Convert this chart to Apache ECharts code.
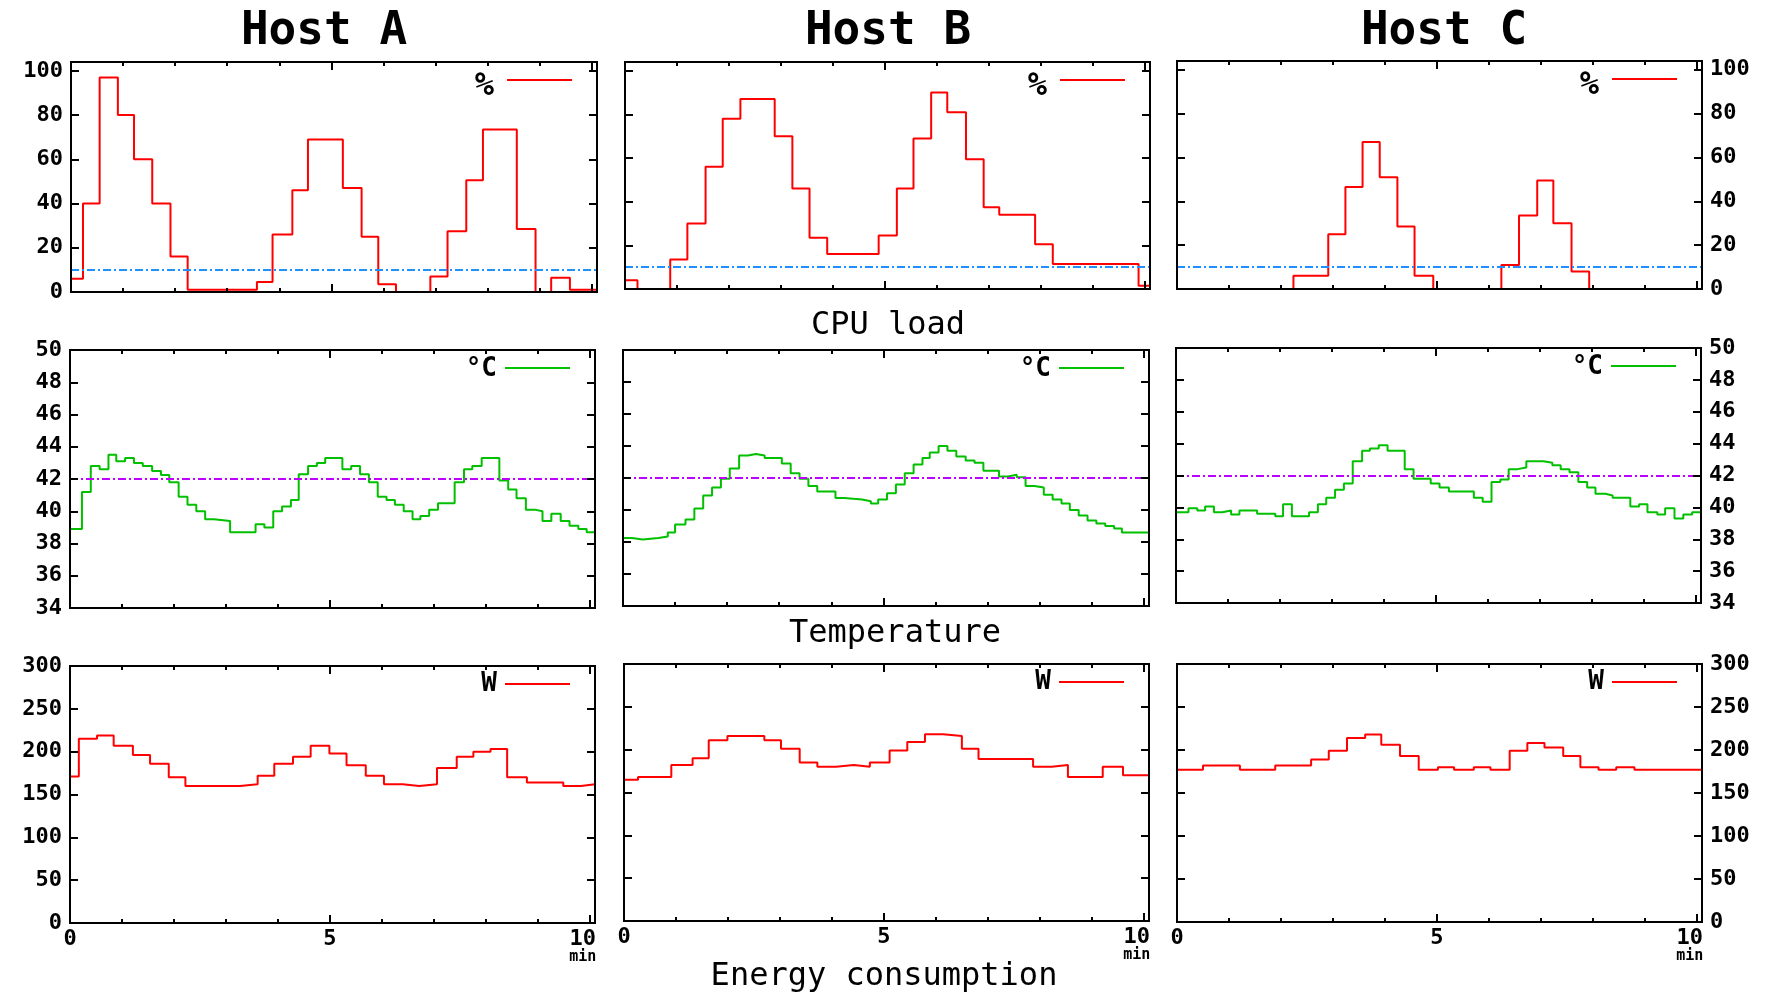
<!DOCTYPE html>
<html>
<head>
<meta charset="utf-8">
<title>Hosts</title>
<style>
  html, body { margin: 0; padding: 0; background: #fff; }
  #main { width: 1765px; height: 992px; }
</style>
<script src="https://cdn.jsdelivr.net/npm/echarts@6/dist/echarts.min.js"></script>
</head>
<body>
<div id="main"></div>
<script>
const hostNames = ['Host A', 'Host B', 'Host C']
const sectionNames = ['CPU load', 'Temperature', 'Energy consumption']
const units = ['%', '°C', 'W']

// y axis ranges per row (cpu, temperature, energy)
const yMin = [0, 34, 0]
const yMax = [104, 50, 300]
const yStep = [20, 2, 50]
const refLevels = [10, 42, null]
const xMax = 10.1

// [minute, value], value holds until the next point
const cpuA = [[0, 6], [0.23, 40], [0.55, 97], [0.9, 80], [1.21, 60], [1.56, 40], [1.91, 16], [2.24, 1],
  [3.57, 4.5], [3.87, 26], [4.25, 46], [4.55, 69], [5.22, 47], [5.58, 25], [5.9, 3.5], [6.24, 0],
  [6.9, 7], [7.23, 27.5], [7.59, 50.5], [7.91, 73.5], [8.56, 28.5], [8.92, 0], [9.22, 6.5], [9.58, 1], [10.1, 1]]
const cpuB = [[0, 4], [0.24, 0], [0.87, 13.5], [1.2, 30], [1.55, 56], [1.88, 78], [2.22, 87], [2.88, 70],
  [3.22, 46], [3.55, 23.5], [3.89, 16], [4.88, 24.5], [5.23, 46], [5.55, 69], [5.89, 90], [6.2, 81],
  [6.56, 59.5], [6.9, 37.5], [7.2, 34], [7.89, 20.5], [8.23, 11.5], [9.88, 1.5], [10.1, 1.5]]
const cpuC = [[0, 0], [2.24, 6], [2.91, 25], [3.24, 46.5], [3.57, 67], [3.9, 51], [4.24, 28.5], [4.57, 6],
  [4.93, 0], [6.24, 11], [6.58, 33.5], [6.93, 49.5], [7.24, 30], [7.59, 8], [7.93, 0], [10.1, 0]]

const tempA = [[0, 38.9], [0.23, 41.2], [0.4, 42.8], [0.57, 42.6], [0.74, 43.5], [0.89, 43.1], [1.06, 43.3],
  [1.23, 43], [1.4, 42.8], [1.58, 42.5], [1.75, 42.25], [1.91, 41.8], [2.09, 40.9], [2.26, 40.4], [2.43, 40],
  [2.6, 39.5], [2.77, 39.4], [3.08, 38.7], [3.57, 39.2], [3.74, 39], [3.91, 40], [4.08, 40.3], [4.25, 40.7],
  [4.4, 42.3], [4.58, 42.8], [4.75, 43], [4.91, 43.3], [5.24, 42.6], [5.41, 42.8], [5.58, 42.3], [5.75, 41.8],
  [5.92, 40.9], [6.09, 40.7], [6.25, 40.4], [6.42, 40], [6.59, 39.5], [6.74, 39.7], [6.91, 40.1], [7.08, 40.5],
  [7.4, 41.8], [7.58, 42.6], [7.74, 42.8], [7.92, 43.3], [8.26, 41.9], [8.43, 41.35], [8.59, 40.8], [8.77, 40.1],
  [8.94, 40], [9.09, 39.4], [9.26, 39.85], [9.44, 39.4], [9.61, 39.1], [9.78, 38.9], [9.94, 38.7], [10.1, 38.7]]
const tempB = [[0, 38.25], [0.17, 38.15], [0.38, 38.25], [0.68, 38.35], [0.86, 38.6], [1.0, 39.1], [1.2, 39.4],
  [1.37, 40.1], [1.54, 40.9], [1.71, 41.4], [1.88, 41.95], [2.05, 42.6], [2.23, 43.4], [2.4, 43.5], [2.55, 43.4],
  [2.72, 43.25], [3.05, 42.9], [3.22, 42.3], [3.39, 41.95], [3.56, 41.5], [3.73, 41.15], [4.08, 40.75], [4.25, 40.65],
  [4.59, 40.55], [4.76, 40.4], [4.9, 40.65], [5.07, 41.05], [5.24, 41.6], [5.41, 42.3], [5.58, 42.85], [5.75, 43.25],
  [5.89, 43.6], [6.06, 44], [6.23, 43.7], [6.4, 43.35], [6.58, 43.1], [6.75, 42.95], [6.92, 42.45], [7.22, 42.1],
  [7.39, 42.2], [7.56, 42.05], [7.73, 41.5], [7.9, 41.4], [8.08, 40.95], [8.25, 40.65], [8.42, 40.4], [8.58, 40],
  [8.75, 39.65], [8.92, 39.35], [9.09, 39.15], [9.26, 39], [9.43, 38.85], [9.58, 38.6], [10.1, 38.6]]
const tempC = [[0, 39.7], [0.24, 39.95], [0.41, 39.8], [0.56, 40.05], [0.73, 39.7], [0.89, 39.8], [1.06, 39.55],
  [1.22, 39.8], [1.56, 39.6], [1.91, 39.45], [2.06, 40.2], [2.23, 39.45], [2.56, 39.7], [2.73, 40.2], [2.89, 40.6],
  [3.06, 41.1], [3.23, 41.5], [3.4, 42.9], [3.58, 43.55], [3.73, 43.7], [3.9, 43.9], [4.07, 43.55], [4.4, 42.4],
  [4.57, 41.8], [4.9, 41.5], [5.07, 41.25], [5.25, 41], [5.73, 40.6], [5.9, 40.35], [6.07, 41.6], [6.24, 41.75],
  [6.4, 42.4], [6.57, 42.5], [6.74, 42.9], [7.07, 42.8], [7.24, 42.65], [7.4, 42.4], [7.57, 42.2], [7.74, 41.6],
  [7.91, 41.25], [8.07, 40.85], [8.26, 40.75], [8.4, 40.6], [8.74, 40.05], [8.91, 40.2], [9.07, 39.7], [9.26, 39.55],
  [9.41, 39.95], [9.59, 39.3], [9.76, 39.55], [9.93, 39.7], [10.1, 39.7]]

const powerA = [[0, 171], [0.17, 215], [0.52, 219], [0.84, 207], [1.21, 196], [1.54, 186], [1.9, 170], [2.22, 160],
  [3.27, 162], [3.61, 172], [3.93, 186], [4.29, 194], [4.63, 207], [4.99, 198], [5.32, 184], [5.69, 172],
  [6.04, 162], [6.4, 160], [6.72, 162], [7.06, 181], [7.44, 194], [7.76, 200], [8.09, 203], [8.41, 170],
  [8.79, 164], [9.49, 160], [9.83, 162], [10.1, 162]]
const powerB = [[0, 165], [0.27, 168], [0.91, 182], [1.32, 190], [1.63, 211], [1.99, 216], [2.7, 211], [3.02, 201],
  [3.38, 185], [3.72, 180], [4.08, 182], [4.42, 180], [4.73, 185], [5.11, 199], [5.45, 209], [5.79, 218],
  [6.14, 216], [6.5, 201], [6.82, 189], [7.87, 180], [8.23, 182], [8.54, 168], [9.21, 180], [9.6, 170], [10.1, 170]]
const powerC = [[0, 177], [0.5, 182], [1.21, 177], [1.89, 182], [2.58, 189], [2.92, 199], [3.27, 214], [3.62, 218],
  [3.93, 206], [4.29, 193], [4.65, 177], [5.02, 180], [5.33, 177], [5.71, 180], [6.03, 177], [6.4, 199],
  [6.74, 208], [7.07, 203], [7.43, 193], [7.76, 180], [8.11, 177], [8.45, 180], [8.8, 177], [10.1, 177]]

const rowData = [[cpuA, cpuB, cpuC], [tempA, tempB, tempC], [powerA, powerB, powerC]]

const mono = 'DejaVu Sans Mono'
const lineColors = ['#ff0000', '#00c000', '#ff0000']
const refColors = ['#1e90ff', '#c000ff', null]
const legendSizes = [32, 26, 26]
// the % sign sits lower than its key line in the original
const legendDrop = [14, 2, 0]

// [left, top, width, height] of every panel, row by row
const boxes = [
  [[71, 62, 526, 230], [625, 62, 525, 227], [1177, 61, 525, 228]],
  [[70, 350, 525, 258], [623, 350, 526, 256], [1176, 348, 525, 255]],
  [[70, 666, 525, 257], [624, 664, 525, 257], [1177, 664, 525, 258]]
]
const titlePos = [[324, 32], [888, 32], [1444, 32]]
const sectionPos = [[888, 326], [895, 634], [884, 977]]

const chart = echarts.init(document.getElementById('main'), null, { width: 1765, height: 992 })

const blackLine = { color: '#000', width: 2 }
const labelFont = { color: '#000', fontFamily: mono, fontWeight: 'bold', fontSize: 22 }

const option = {
  animation: false,
  backgroundColor: '#fff',
  grid: [],
  xAxis: [],
  yAxis: [],
  legend: [],
  series: [],
  graphic: []
}

rowData.forEach((hosts, r) => {
  hosts.forEach((data, c) => {
    const g = r * 3 + c
    const [left, top, width, height] = boxes[r][c]
    option.grid.push({ left, top, width, height, show: true, borderColor: '#000', borderWidth: 2 })

    const xAxis = (position, interval, length, showLabel) => ({
      type: 'value',
      gridIndex: g,
      position,
      min: 0,
      max: xMax,
      interval,
      z: 5,
      axisLine: { show: true, onZero: false, lineStyle: blackLine },
      axisTick: { show: true, inside: true, length, lineStyle: blackLine },
      axisLabel: {
        show: showLabel,
        margin: 5,
        ...labelFont,
        lineHeight: 22,
        // gnuplot puts the last label a bit left of its tick, with the unit below
        formatter: v => (v > 10 ? '' : v === 10 ? '{t|10}\n{m|min}' : String(v)),
        rich: {
          t: { ...labelFont, lineHeight: 22, padding: [0, 14, 0, 0] },
          m: { fontFamily: mono, fontSize: 15, lineHeight: 15, color: '#000', padding: [0, 14, 0, 0] }
        }
      },
      splitLine: { show: false }
    })
    const bottomLabels = r === 2
    option.xAxis.push(
      xAxis('bottom', 1, 4, false),
      xAxis('bottom', 5, 8, bottomLabels),
      xAxis('top', 1, 4, false),
      xAxis('top', 5, 8, false)
    )

    const yAxis = (position, showLabel) => ({
      type: 'value',
      gridIndex: g,
      position,
      min: yMin[r],
      max: yMax[r],
      interval: yStep[r],
      z: 5,
      axisLine: { show: true, onZero: false, lineStyle: blackLine },
      axisTick: { show: true, inside: true, length: 8, lineStyle: blackLine },
      axisLabel: {
        show: showLabel,
        margin: 8,
        ...labelFont,
        formatter: v => ((v - yMin[r]) % yStep[r] === 0 ? String(v) : '')
      },
      splitLine: { show: false }
    })
    option.yAxis.push(yAxis('left', c === 0), yAxis('right', c === 2))

    const series = {
      type: 'line',
      name: units[r],
      xAxisIndex: g * 4 + 1,
      yAxisIndex: g * 2,
      data,
      step: 'end',
      symbol: 'none',
      showSymbol: false,
      silent: true,
      color: lineColors[r],
      lineStyle: { color: lineColors[r], width: 2 }
    }
    if (refLevels[r] !== null) {
      series.markLine = {
        silent: true,
        symbol: ['none', 'none'],
        label: { show: false },
        lineStyle: { color: refColors[r], type: [8, 3, 2, 3], width: 2 },
        data: [{ yAxis: refLevels[r] }]
      }
    }
    option.series.push(series)

    option.legend.push({
      data: [units[r]],
      right: 1765 - (left + width - 25),
      top: top + 18 - (legendSizes[r] + legendDrop[r]) / 2,
      padding: 0,
      align: 'right',
      icon: 'rect',
      itemWidth: 65,
      itemHeight: 2,
      selectedMode: false,
      formatter: name => `{u|${name}}`,
      textStyle: {
        color: '#000',
        rich: {
          u: {
            color: '#000',
            fontFamily: mono,
            fontWeight: 'bold',
            fontSize: legendSizes[r],
            lineHeight: legendSizes[r],
            padding: [legendDrop[r], r === 0 ? 8 : 3, 0, 0]
          }
        }
      }
    })
  })
})

hostNames.forEach((name, i) => {
  option.graphic.push({
    type: 'text',
    x: titlePos[i][0],
    y: titlePos[i][1],
    style: { text: name, fill: '#000', fontFamily: mono, fontWeight: 'bold', fontSize: 46, align: 'center', verticalAlign: 'middle' }
  })
})
sectionNames.forEach((name, i) => {
  option.graphic.push({
    type: 'text',
    x: sectionPos[i][0],
    y: sectionPos[i][1],
    style: { text: name, fill: '#000', fontFamily: mono, fontSize: 32, align: 'center', verticalAlign: 'middle' }
  })
})

chart.setOption(option)
</script>
</body>
</html>
